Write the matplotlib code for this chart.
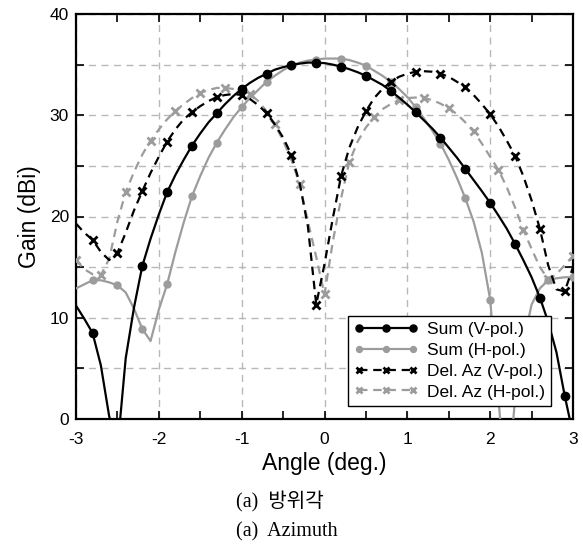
import numpy as np
import matplotlib
matplotlib.use("Agg")
import matplotlib.pyplot as plt
from matplotlib.ticker import MultipleLocator

# Angle samples (deg.), 0.1 deg. step from -3 to 3
angle = [round(-3.0 + 0.1 * i, 1) for i in range(61)]

# Sum pattern, V-pol. (dBi)
sum_v = [11.2, 9.9, 8.5, 5.3, 0.3, -3.0, 6.0, 11.0, 15.1, 17.8,
         20.2, 22.4, 24.1, 25.6, 27.0, 28.2, 29.3, 30.2, 31.1, 31.9,
         32.6, 33.2, 33.7, 34.1, 34.5, 34.75, 34.95, 35.1, 35.2, 35.2,
         35.15, 35.0, 34.8, 34.55, 34.25, 33.9, 33.45, 33.0, 32.4, 31.75,
         31.05, 30.3, 29.5, 28.7, 27.8, 26.8, 25.8, 24.7, 23.6, 22.5,
         21.35, 20.1, 18.8, 17.3, 15.7, 14.0, 12.0, 9.6, 6.6, 2.3,
         -1.5]

# Sum pattern, H-pol. (dBi)
sum_h = [12.9, 13.3, 13.7, 13.7, 13.5, 13.2, 12.5, 10.9, 8.9, 7.7,
         10.8, 13.3, 16.5, 19.4, 22.0, 24.0, 25.8, 27.3, 28.6, 29.8,
         30.8, 31.7, 32.5, 33.3, 33.9, 34.45, 34.9, 35.2, 35.4, 35.5,
         35.6, 35.6, 35.6, 35.45, 35.2, 34.9, 34.4, 33.9, 33.3, 32.6,
         31.8, 30.8, 29.7, 28.5, 27.2, 25.6, 23.8, 21.8, 19.5, 16.4,
         11.8, 2.0, -8.0, 2.0, 7.5, 11.3, 12.9, 13.7, 13.9, 14.0,
         14.0]

# Azimuth difference pattern, V-pol. (dBi)
del_az_v = [19.3, 18.4, 17.7, 16.5, 15.7, 16.4, 18.4, 20.6, 22.5, 24.3,
            25.9, 27.4, 28.6, 29.6, 30.3, 30.9, 31.4, 31.8, 32.0, 32.1,
            32.0, 31.6, 31.0, 30.2, 29.1, 27.8, 26.1, 23.3, 19.0, 11.3,
            15.3, 19.8, 24.0, 26.8, 28.8, 30.4, 31.7, 32.6, 33.3, 33.8,
            34.1, 34.3, 34.35, 34.3, 34.1, 33.8, 33.3, 32.75, 32.0, 31.1,
            30.1, 28.9, 27.5, 26.0, 24.0, 21.6, 18.8, 15.2, 12.8, 12.6,
            15.0]

# Azimuth difference pattern, H-pol. (dBi)
del_az_h = [15.7, 14.8, 14.3, 14.2, 15.8, 19.5, 22.4, 24.4, 26.1, 27.5,
            28.6, 29.6, 30.4, 31.1, 31.7, 32.2, 32.5, 32.7, 32.7, 32.6,
            32.4, 32.1, 31.4, 30.4, 29.1, 27.5, 25.6, 23.2, 19.5, 16.0,
            12.3, 17.5, 21.8, 25.4, 27.4, 28.8, 29.8, 30.6, 31.1, 31.5,
            31.7, 31.75, 31.7, 31.5, 31.15, 30.7, 30.1, 29.3, 28.4, 27.2,
            25.9, 24.6, 22.9, 20.9, 18.7, 16.8, 15.0, 13.8, 14.3, 15.2,
            16.1]

# Sample indices that carry a marker
marks_sum_v = list(range(2, 61, 3))
marks_sum_h = list(range(2, 51, 3)) + [54, 57, 60]
marks_del_v = list(range(2, 61, 3))
marks_del_h = list(range(0, 61, 3))

labels = ["Sum (V-pol.)", "Sum (H-pol.)", "Del. Az (V-pol.)", "Del. Az (H-pol.)"]
x_ticks = [-3, -2, -1, 0, 1, 2, 3]
y_ticks = [0, 10, 20, 30, 40]

GRAY = "#9c9c9c"
DASH = (0, (3.8, 2.6))
plt.rcParams["font.family"] = ["Liberation Sans", "DejaVu Sans"]
plt.rcParams["axes.unicode_minus"] = False

fig = plt.figure(figsize=(5.83, 5.51), dpi=100)
ax = fig.add_axes([76 / 583, 1 - 419 / 551, 497 / 583, 405 / 551])

ax.plot(angle, sum_v, color="black", lw=1.6, ls="-", marker="o", ms=6.0,
        markevery=marks_sum_v, label=labels[0], zorder=5)
ax.plot(angle, sum_h, color=GRAY, lw=1.6, ls="-", marker="o", ms=5.0,
        markevery=marks_sum_h, label=labels[1], zorder=4)
ax.plot(angle, del_az_v, color="black", lw=1.6, ls=DASH, marker="x",
        ms=5.5, mew=2.0, markevery=marks_del_v, label=labels[2], zorder=5)
ax.plot(angle, del_az_h, color=GRAY, lw=1.6, ls=DASH, marker="x",
        ms=5.5, mew=2.0, markevery=marks_del_h, label=labels[3], zorder=4)

ax.set_xlim(-3, 3)
ax.set_ylim(0, 40)
ax.set_xticks(x_ticks)
ax.set_yticks(y_ticks)
ax.xaxis.set_minor_locator(MultipleLocator(0.5))
ax.yaxis.set_minor_locator(MultipleLocator(5))

ax.grid(True, which="major", axis="x", color="#b8b8b8", ls=(0, (5, 4)), lw=1.0)
ax.grid(True, which="both", axis="y", color="#b8b8b8", ls=(0, (5, 4)), lw=1.0)
ax.set_axisbelow(True)

ax.tick_params(which="both", direction="in", top=True, right=True,
               length=6, width=1.2, labelsize=12.5)
ax.tick_params(axis="x", pad=9)
ax.tick_params(axis="y", pad=5)
for s in ax.spines.values():
    s.set_linewidth(1.6)

ax.set_xlabel("Angle (deg.)", fontsize=16.5, labelpad=4)
ax.set_ylabel("Gain (dBi)", fontsize=16.5, labelpad=6)

leg = ax.legend(loc="lower right", bbox_to_anchor=(0.956, 0.033),
                borderaxespad=0, fontsize=12.5, numpoints=3, handlelength=3.7,
                handletextpad=0.5, labelspacing=0.32, borderpad=0.35,
                markerscale=0.85, fancybox=False, framealpha=1,
                edgecolor="black")
leg.get_frame().set_linewidth(1.0)

fig.text(236 / 583, 1 - 502 / 551, "(a)  방위각", fontsize=14.5,
         family=["Liberation Serif", "Noto Sans CJK KR"], ha="left", va="center")
fig.text(236 / 583, 1 - 532 / 551, "(a)  Azimuth", fontsize=14.5,
         family=["Liberation Serif", "Noto Sans CJK KR"], ha="left", va="center")

fig.savefig("out.png", dpi=100)
